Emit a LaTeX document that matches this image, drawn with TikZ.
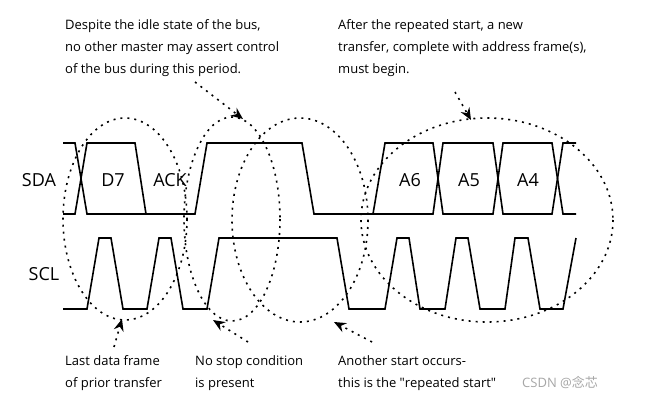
\documentclass[tikz,border=0pt]{standalone}
\usepackage{fontspec}
\setmainfont{Open Sans}
\newfontfamily\cjk{Noto Sans CJK SC}
\usetikzlibrary{arrows.meta}
\begin{document}
\begin{tikzpicture}[x=1pt,y=-1pt,
  sig/.style={line width=1.6pt,line join=miter},
  dots/.style={line width=1.6pt,dash pattern=on 2pt off 5pt},
  arr/.style={dots,-{Stealth[length=12pt,width=10pt,inset=4pt]}},
  note/.style={anchor=north west,align=left,font=\fontsize{13}{22}\selectfont,inner sep=0pt},
  lab/.style={font=\fontsize{18}{18}\selectfont,inner sep=0pt},
  bit/.style={font=\fontsize{18}{18}\selectfont,inner sep=0pt}]
\useasboundingbox (0,0) rectangle (649,402);
% SDA
\draw[sig] (63,143)--(75,143)--(87,214)--(195,214)--(207,143)--(302,143)--(314,214)--(373,214)--(385,143)--(433,143)--(443,214)--(493,214)--(503,143)--(552,143)--(563,214)--(576,214);
\draw[sig] (63,214)--(75,214)--(87,143)--(135,143)--(146,214);
\draw[sig] (373,214)--(433,214)--(443,143)--(493,143)--(503,214)--(552,214)--(563,143)--(576,143);
% SCL
\draw[sig] (63,309)--(87,309)--(99,238)--(111,238)--(123,309)--(147,309)--(159,238)--(171,238)--(183,309)--(207,309)--(219,238)--(337,238)--(349,309)--(385,309)--(397,238)--(409,238)--(420,309)--(445,309)--(456,238)--(468,238)--(480,309)--(505,309)--(515,238)--(528,238)--(540,309)--(563,309)--(576,238);
% labels
\node[lab] (sda) at (39,180) {SDA};
\node[lab] (scl) at (44,274) {SCL};
\node[bit] (d7) at (113,180) {D7};
\node[bit] (ack) at (170,180) {ACK};
\node[bit] (a6) at (410,180) {A6};
\node[bit] (a5) at (469,180) {A5};
\node[bit] (a4) at (528,180) {A4};
% ellipses
\draw[dots] (125,219) ellipse [x radius=62,y radius=101];
\draw[dots] (232,219) ellipse [x radius=48,y radius=102];
\draw[dots] (300,220) ellipse [x radius=68,y radius=102];
\draw[dots] (487,220) ellipse [x radius=126,y radius=102];
\coordinate (t1) at (243,119);
\coordinate (t2) at (471,120);
\coordinate (t3) at (122,319);
\coordinate (t4) at (213,320);
\coordinate (t5) at (334,322);
% notes
\node[note] (n1) at (65,19) {Despite the idle state of the bus,\\no other master may assert control\\of the bus during this period.};
\node[note] (n2) at (338,19) {After the repeated start, a new\\transfer, complete with address frame(s),\\must begin.};
\node[note] (n3) at (65,355) {Last data frame\\of prior transfer};
\node[note] (n4) at (195,355) {No stop condition\\is present};
\node[note] (n5) at (338,355) {Another start occurs-\\this is the \textquotedbl repeated start\textquotedbl};
\node[anchor=west,inner sep=0pt,text=gray!70,font=\fontsize{13}{13}\selectfont] (wm) at (522,383) {CSDN @{\cjk 念芯}};
\coordinate (s1) at (195,82);
\coordinate (s2) at (455,92);
\coordinate (s3) at (114,347);
\coordinate (s4) at (248,342);
\coordinate (s5) at (372,342);
\draw[arr] (s1)--(t1);
\draw[arr] (s2)--(t2);
\draw[arr] (s3)--(t3);
\draw[arr] (s4)--(t4);
\draw[arr] (s5)--(t5);
\end{tikzpicture}
\end{document}
